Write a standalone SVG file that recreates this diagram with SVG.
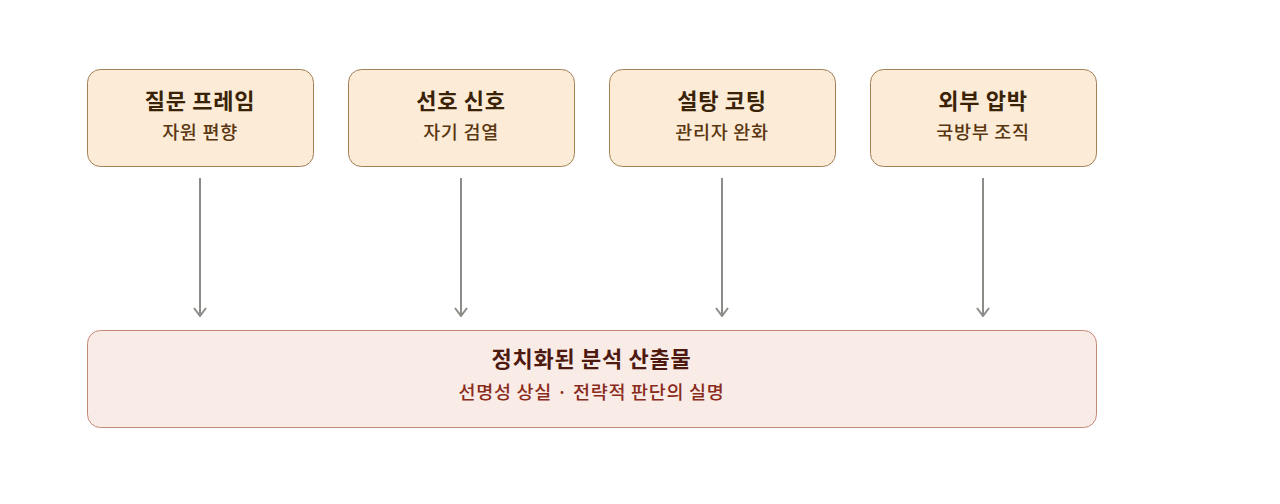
<svg xmlns="http://www.w3.org/2000/svg" width="1280" height="504" viewBox="0 0 1280 504">
<style>
.top rect{fill:#fbebd7;stroke:#a27f55;stroke-width:1}
.bot rect{fill:#f9ebe6;stroke:#c48878;stroke-width:1}
text{font-family:"Noto Sans CJK KR","Noto Sans",sans-serif;text-anchor:middle}
.t{font-size:22px;font-weight:600;fill:#3a2206;letter-spacing:0.7px}
.s{font-size:18.5px;font-weight:500;fill:#5a3610;letter-spacing:0.7px}
.bt{font-size:22px;font-weight:600;fill:#4e1a10;letter-spacing:0.7px}
.bs{font-size:18.5px;font-weight:500;fill:#8a2c1c;letter-spacing:0.7px}
.conn line{stroke:#8c8c88;stroke-width:2}
</style>
<defs>
<marker id="ah" viewBox="0 0 10 14" refX="9" refY="7" markerWidth="10" markerHeight="14" markerUnits="userSpaceOnUse" orient="auto">
<path d="M1,1 L9,7 L1,13" fill="none" stroke="#8c8c88" stroke-width="2"/>
</marker>
</defs>
<rect width="1280" height="504" fill="#ffffff"/>
<g class="conn">
<line x1="200" y1="178" x2="200" y2="316" marker-end="url(#ah)"/>
<line x1="461" y1="178" x2="461" y2="316" marker-end="url(#ah)"/>
<line x1="722" y1="178" x2="722" y2="316" marker-end="url(#ah)"/>
<line x1="983" y1="178" x2="983" y2="316" marker-end="url(#ah)"/>
</g>
<g id="n1" class="top"><rect x="87.5" y="69.5" width="226" height="97" rx="13"/><text class="t" x="200" y="109">질문 프레임</text><text class="s" x="200" y="139">자원 편향</text></g>
<g id="n2" class="top"><rect x="348.5" y="69.5" width="226" height="97" rx="13"/><text class="t" x="461" y="109">선호 신호</text><text class="s" x="461" y="139">자기 검열</text></g>
<g id="n3" class="top"><rect x="609.5" y="69.5" width="226" height="97" rx="13"/><text class="t" x="722" y="109">설탕 코팅</text><text class="s" x="722" y="139">관리자 완화</text></g>
<g id="n4" class="top"><rect x="870.5" y="69.5" width="226" height="97" rx="13"/><text class="t" x="983" y="109">외부 압박</text><text class="s" x="983" y="139">국방부 조직</text></g>
<g id="out" class="bot"><rect x="87.5" y="330.5" width="1009" height="97" rx="13"/><text class="bt" x="591.5" y="367">정치화된 분석 산출물</text><text class="bs" x="591.5" y="399">선명성 상실 · 전략적 판단의 실명</text></g>
</svg>
